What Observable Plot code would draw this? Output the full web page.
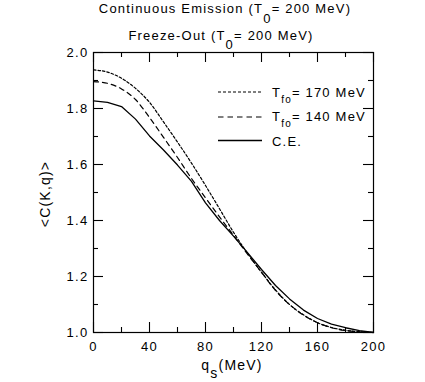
<!DOCTYPE html>
<html><head><meta charset="utf-8">
<script src="https://cdn.jsdelivr.net/npm/d3@7"></script>
<script src="https://cdn.jsdelivr.net/npm/@observablehq/plot@0.6"></script>
<style>
body{margin:0;background:#fff;}
#wrap{position:relative;width:425px;height:382px;font-family:"Liberation Sans",Arial,sans-serif;color:#000;letter-spacing:1.2px;overflow:hidden;}
#wrap svg{position:absolute;left:0;top:0;}
.t{position:absolute;white-space:nowrap;font-size:13px;line-height:1;}
.c{transform:translateX(-50%);}
.s0{position:relative;top:9.5px;}
.sf{position:relative;top:6px;font-size:10px;}
.ss{position:relative;top:8px;}
</style></head><body>
<div id="wrap"></div>
<script>
// ---- data ----
const qs     = [0,10,20,30,40,50,60,70,80,90,100,110,120,130,140,150,160,170,180,190,200];
const fo170  = [1.938,1.930,1.908,1.872,1.822,1.752,1.680,1.605,1.525,1.442,1.358,1.283,1.215,1.152,1.100,1.063,1.035,1.018,1.008,1.003,1.000];
const fo140  = [1.896,1.890,1.870,1.832,1.768,1.697,1.625,1.550,1.481,1.413,1.347,1.280,1.215,1.150,1.100,1.062,1.035,1.017,1.007,1.002,1.000];
const ce     = [1.827,1.822,1.807,1.762,1.702,1.652,1.598,1.540,1.463,1.400,1.344,1.285,1.225,1.168,1.120,1.080,1.050,1.030,1.017,1.007,1.000];
const xTicks = [0,40,80,120,160,200];
const xMinor = [20,60,100,140,180];
const yTicks = [1.0,1.2,1.4,1.6,1.8,2.0];
const yMinor = [1.1,1.3,1.5,1.7,1.9];
const titles = ["Continuous Emission (T", "Freeze-Out (T"];
const legendLabels = ["170 MeV","140 MeV","C.E."];

const row = (arr) => qs.map((q,i)=>({q, v: arr[i]}));
const W = 425, H = 382, mL = 93, mR = 52, mT = 52, mB = 50;
const fw = W - mL - mR, fh = H - mT - mB;
const major = 10, minor = 5;

const plot = Plot.plot({
  width: W, height: H,
  marginLeft: mL, marginRight: mR, marginTop: mT, marginBottom: mB,
  style: "font-size:13px;font-family:'Liberation Sans',Arial,sans-serif;letter-spacing:1.3px;color:#000;background:transparent;",
  x: {domain: [0,200]},
  y: {domain: [1,2]},
  marks: [
    Plot.axisX(xTicks, {anchor:"bottom", tickSize:0, tickPadding:9, tickFormat:d=>String(d), label:null}),
    Plot.axisY(yTicks, {anchor:"left", tickSize:0, tickPadding:5, tickFormat:d3.format(".1f"), label:null}),
    // inward ticks on all four sides
    Plot.ruleX(xTicks, {x:d=>d, insetTop: fh - major, stroke:"#000", strokeWidth:1.1}),
    Plot.ruleX(xMinor, {x:d=>d, insetTop: fh - minor, stroke:"#000", strokeWidth:1.1}),
    Plot.ruleX(xTicks, {x:d=>d, insetBottom: fh - major, stroke:"#000", strokeWidth:1.1}),
    Plot.ruleX(xMinor, {x:d=>d, insetBottom: fh - minor, stroke:"#000", strokeWidth:1.1}),
    Plot.ruleY(yTicks, {y:d=>d, insetRight: fw - major, stroke:"#000", strokeWidth:1.1}),
    Plot.ruleY(yMinor, {y:d=>d, insetRight: fw - minor, stroke:"#000", strokeWidth:1.1}),
    Plot.ruleY(yTicks, {y:d=>d, insetLeft: fw - major, stroke:"#000", strokeWidth:1.1}),
    Plot.ruleY(yMinor, {y:d=>d, insetLeft: fw - minor, stroke:"#000", strokeWidth:1.1}),
    Plot.frame({stroke:"#000", strokeWidth:1.2}),
    Plot.line(row(fo170), {x:"q", y:"v", stroke:"#000", strokeWidth:1.2, strokeDasharray:"2.5,2", curve:"monotone-x"}),
    Plot.line(row(fo140), {x:"q", y:"v", stroke:"#000", strokeWidth:1.2, strokeDasharray:"5,4", curve:"monotone-x"}),
    Plot.line(row(ce),    {x:"q", y:"v", stroke:"#000", strokeWidth:1.3, curve:"linear"})
  ]
});

const wrap = document.getElementById("wrap");
wrap.appendChild(plot);

function addText(html, style, cls) {
  const d = document.createElement("div");
  d.className = "t " + (cls||"");
  d.setAttribute("style", style);
  d.innerHTML = html;
  wrap.appendChild(d);
  return d;
}
// titles
addText(titles[0] + '<span class="s0">0</span>= 200 MeV)', "left:225px;top:2.3px;", "c");
addText(titles[1] + '<span class="s0">0</span>= 200 MeV)', "left:221px;top:28.5px;", "c");
// x label
addText('q<span class="ss">s</span>(MeV)', "left:232px;top:358px;font-size:14px;", "c");
// y label
addText('&lt;C(K,q)&gt;', "left:45px;top:194px;font-size:14px;transform:translate(-50%,-50%) rotate(-90deg);");

// legend
const ns = "http://www.w3.org/2000/svg";
const lg = document.createElementNS(ns, "svg");
lg.setAttribute("width", W); lg.setAttribute("height", H);
const dashes = ["3,2", "5.5,4", null];
const ys = [92, 117, 140.5];
dashes.forEach((da, i) => {
  const l = document.createElementNS(ns, "line");
  l.setAttribute("x1", 218); l.setAttribute("x2", 262);
  l.setAttribute("y1", ys[i]); l.setAttribute("y2", ys[i]);
  l.setAttribute("stroke", "#000"); l.setAttribute("stroke-width", i===2 ? 1.3 : 1.2);
  if (da) l.setAttribute("stroke-dasharray", da);
  lg.appendChild(l);
});
wrap.appendChild(lg);
addText('T<span class="sf">fo</span>= ' + legendLabels[0], "left:272px;top:86px;");
addText('T<span class="sf">fo</span>= ' + legendLabels[1], "left:272px;top:110px;");
addText(legendLabels[2], "left:272px;top:135px;");
</script>
</body></html>
